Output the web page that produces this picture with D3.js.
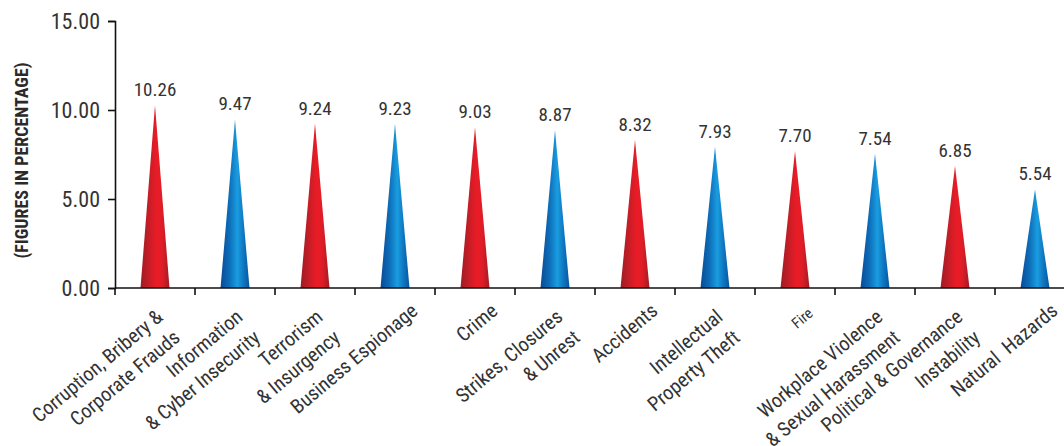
<!DOCTYPE html>
<html>
<head>
<meta charset="utf-8">
<script src="https://cdn.jsdelivr.net/npm/d3@7"></script>
<style>
  body { margin: 0; background: #fff; }
  svg { display: block; font-family: "Liberation Sans Narrow", "Roboto Condensed", "Liberation Sans", sans-serif; }
  .xlabel { white-space: pre; }
</style>
</head>
<body>
<div id="chart"></div>
<script>
const width = 1064;
const height = 446;
const margin = { top: 21, right: -11, bottom: 158, left: 115 };

const categories = [
  ["Corruption, Bribery &", "Corporate Frauds"],
  ["Information", "& Cyber Insecurity"],
  ["Terrorism", "& Insurgency"],
  ["Business Espionage"],
  ["Crime"],
  ["Strikes, Closures", "& Unrest"],
  ["Accidents"],
  ["Intellectual", "Property Theft"],
  ["Fire"],
  ["Workplace Violence", "& Sexual Harassment"],
  ["Political & Governance", "Instability"],
  ["Natural  Hazards"]
];
const values = [10.26, 9.47, 9.24, 9.23, 9.03, 8.87, 8.32, 7.93, 7.70, 7.54, 6.85, 5.54];
const yTicks = [0, 5, 10, 15];

const svg = d3.select("#chart")
  .append("svg")
  .attr("width", width)
  .attr("height", height);

const defs = svg.append("defs");

const gradients = {
  red: ["#9c1c24", "#c81d26", "#ec1c26", "#d81d27", "#a11c24"],
  blue: ["#0a4a96", "#0d6cb8", "#1a9de0", "#0f78c2", "#0a549f"]
};

Object.entries(gradients).forEach(([name, stops]) => {
  const g = defs.append("linearGradient")
    .attr("id", "grad-" + name)
    .attr("x1", "0%").attr("x2", "100%")
    .attr("y1", "0%").attr("y2", "0%");
  const offsets = [0, 0.3, 0.58, 0.78, 1];
  stops.forEach((c, i) => {
    g.append("stop").attr("offset", offsets[i]).attr("stop-color", c);
  });
});

const x = d3.scaleBand()
  .domain(d3.range(categories.length))
  .range([margin.left, width - margin.right])
  .padding(0);

const y = d3.scaleLinear()
  .domain([0, 15])
  .range([height - margin.bottom, margin.top]);

const baseHalf = 14.5;

// triangles
svg.selectAll(".spike")
  .data(values)
  .join("path")
  .attr("class", "spike")
  .attr("fill", (d, i) => i % 2 === 0 ? "url(#grad-red)" : "url(#grad-blue)")
  .attr("d", (d, i) => {
    const cx = x(i) + x.bandwidth() / 2;
    return `M${cx - baseHalf},${y(0)}L${cx},${y(d)}L${cx + baseHalf},${y(0)}Z`;
  });

// value labels
svg.selectAll(".value")
  .data(values)
  .join("text")
  .attr("class", "value")
  .attr("x", (d, i) => x(i) + x.bandwidth() / 2)
  .attr("y", d => y(d) - 9)
  .attr("text-anchor", "middle")
  .attr("font-size", 19)
  .attr("fill", "#333")
  .text(d => d.toFixed(2));

// y axis
const yAxis = svg.append("g")
  .attr("transform", `translate(${margin.left}, 0)`)
  .call(d3.axisLeft(y).tickValues(yTicks).tickFormat(d3.format(".2f")).tickSize(7).tickPadding(8))
  .attr("font-family", null)
  .attr("font-size", null);

yAxis.select(".domain").attr("stroke", "#111").attr("stroke-width", 1.6);
yAxis.selectAll(".tick line").attr("stroke", "#111").attr("stroke-width", 1.6);
yAxis.selectAll(".tick text")
  .attr("font-size", 22)
  .attr("fill", "#333");

// x axis
const xAxisG = svg.append("g")
  .attr("transform", `translate(0, ${y(0)})`);

xAxisG.append("line")
  .attr("x1", margin.left)
  .attr("x2", width)
  .attr("stroke", "#111")
  .attr("stroke-width", 1.6);

xAxisG.selectAll(".xtick")
  .data(d3.range(categories.length))
  .join("line")
  .attr("class", "xtick")
  .attr("x1", i => x(i))
  .attr("x2", i => x(i))
  .attr("y1", 0)
  .attr("y2", 7)
  .attr("stroke", "#111")
  .attr("stroke-width", 1.6);

// rotated category labels, right end of each line pinned near the tick
const lineH = 27;
const angle = -40;
const labels = xAxisG.selectAll(".xlabel")
  .data(categories)
  .join("text")
  .attr("class", "xlabel")
  .attr("text-anchor", "end")
  .attr("font-size", d => d[0] === "Fire" ? 15 : 20)
  .attr("fill", "#333")
  .attr("transform", (d, i) => {
    const cx = x(i) + x.bandwidth() / 2;
    const dx = d.length > 1 ? 9 : (d[0] === "Fire" ? 19 : 24);
    const dy = d.length > 1 ? 31 : (d[0] === "Fire" ? 27 : 25);
    return `translate(${cx + dx}, ${dy}) rotate(${angle})`;
  });

labels.selectAll("tspan")
  .data(d => d.map((t, j) => ({ t, j })))
  .join("tspan")
  .attr("x", 0)
  .attr("y", d => d.j * lineH)
  .text(d => d.t);

// y title
svg.append("text")
  .attr("transform", `translate(28, ${(margin.top + y(0)) / 2 + 6}) rotate(-90)`)
  .attr("text-anchor", "middle")
  .attr("font-size", 18)
  .attr("font-weight", "bold")
  .attr("fill", "#2a2a2a")
  .text("(FIGURES IN PERCENTAGE)");
</script>
</body>
</html>
